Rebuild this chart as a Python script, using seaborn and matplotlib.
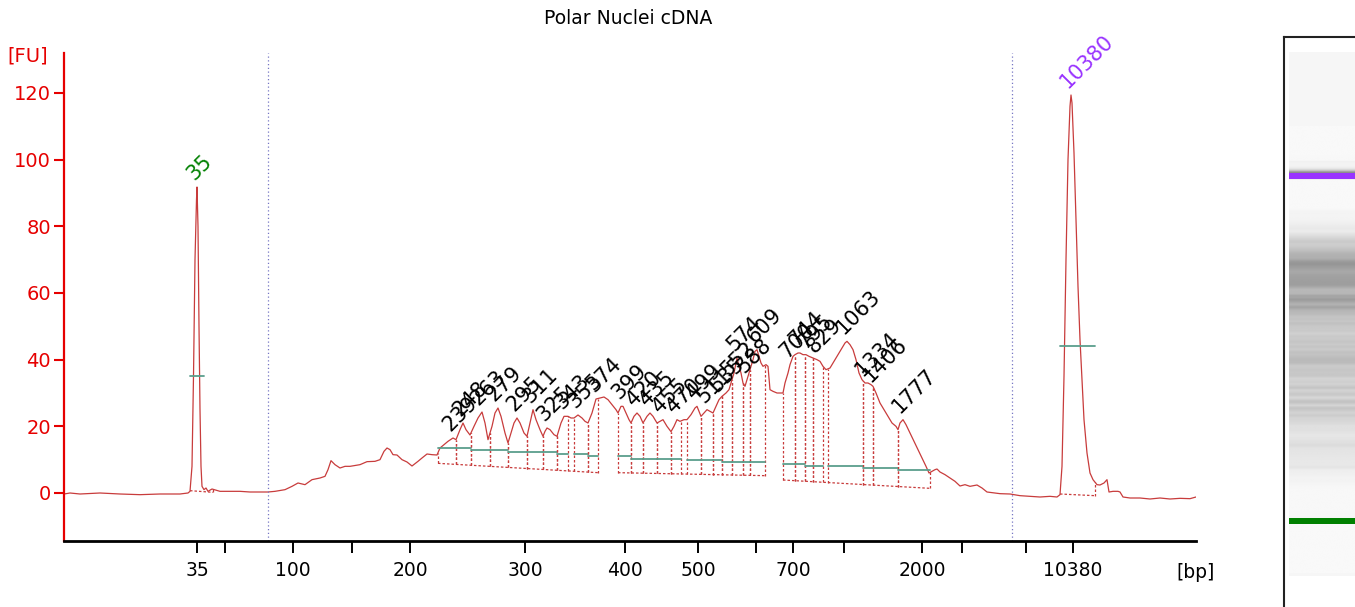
import numpy as np
import pandas as pd
import matplotlib
matplotlib.use("Agg")
import matplotlib.pyplot as plt
import seaborn as sns

# ---------------- data ----------------
title = "Polar Nuclei cDNA"

# migration position along the run (arbitrary units) and fluorescence [FU]
pos = [64, 70, 80, 100, 120, 140, 160, 180, 188, 190, 192, 193.5, 195, 196.5, 197, 198, 199, 200,
       201, 202, 204, 206, 208, 212, 220, 230, 240, 250, 260, 268, 275, 285, 292, 298, 305, 312,
       320, 325, 328, 331, 335, 340, 345, 350, 360, 367, 375, 380, 384, 387, 390, 393, 397, 402,
       407, 412, 418, 422, 427, 432, 437, 440, 444, 448, 453, 456, 460, 463, 466, 470, 474, 478,
       482, 485, 488, 492, 495, 498, 501, 505, 508, 511, 514, 517, 520, 524, 527, 530, 533, 536,
       540, 543, 545, 547, 550, 554, 557, 561, 564, 568, 571, 574, 578, 582, 585, 588, 592, 596,
       600, 604, 608, 612, 616, 618, 621, 623, 626, 629, 631, 634, 637, 640, 643, 647, 650, 653,
       657, 660, 663, 667, 671, 674, 677, 680, 684, 687, 691, 695, 697, 699, 701, 704, 707, 710,
       713, 716, 719, 722, 726, 729, 732, 734, 737, 739, 741, 743, 745, 747, 750, 753, 755, 757,
       759, 761, 763, 766, 768, 770, 773, 777, 781, 783, 785, 788, 790, 793, 795, 798, 800, 803,
       806, 809, 813, 817, 820, 823, 826, 830, 833, 837, 841, 845, 847, 850, 853, 856, 859, 862,
       865, 868, 871, 873, 876, 880, 884, 888, 892, 896, 898, 900, 903, 906, 910, 914, 918, 922,
       926, 929, 932, 935, 937, 940, 945, 950, 955, 960, 965, 970, 977, 982, 987, 995, 1000, 1010,
       1020, 1030, 1040, 1050, 1057, 1060, 1062, 1064, 1066, 1068, 1070, 1071, 1072, 1074, 1076,
       1078, 1080, 1082, 1084, 1087, 1090, 1093, 1097, 1100, 1104, 1107, 1109, 1113, 1118, 1120,
       1123, 1130, 1140, 1150, 1160, 1170, 1180, 1190, 1196]
fu = [-0.3, 0, -0.3, 0, -0.3, -0.5, -0.3, -0.3, 0, 0.5, 8, 35, 70, 88, 91.8, 80, 50, 25,
      8, 2, 1, 1.5, 0.5, 1.2, 0.5, 0.5, 0.5, 0.3, 0.3, 0.3, 0.5, 1, 2, 3, 2.5, 4,
      4.5, 5, 7, 9.7, 8.5, 7.5, 8, 8, 8.5, 9.4, 9.5, 10, 12.5, 13.5, 13, 11.5, 11.4, 10,
      9.3, 8.1, 9.5, 10.5, 11.7, 11.5, 11.4, 13.5, 14.5, 15.5, 16.5, 16, 19, 21, 19, 17.4, 20, 22.5,
      24.3, 21, 16, 20, 24, 25.5, 23, 18, 15, 18, 21, 22.5, 21, 18, 17, 21, 25, 22,
      19, 17, 18.5, 19.5, 19, 17.5, 17, 21, 23, 23, 22.5, 22.5, 23.4, 22.5, 21.5, 21, 24, 28.2,
      28.5, 28.8, 28, 26.5, 25, 24, 26, 26, 24, 22, 21, 23, 24, 23, 21, 23, 24, 23,
      21, 21.5, 22, 20, 18.4, 20, 22, 21.5, 22, 22, 23.5, 25.5, 26, 24.5, 23, 24, 25, 24.5,
      24, 26, 28, 29, 30, 31, 34, 36, 40.5, 38, 36, 33, 32, 34, 37, 40, 42.5, 43,
      41, 39, 38, 38.5, 38, 31, 30.5, 30, 30, 30, 33, 36, 38.5, 41, 41.5, 42, 42, 41.5,
      41.5, 41, 40.5, 40, 39.5, 38, 37, 37.5, 39, 41, 43, 45, 45.5, 44.5, 43, 40, 36, 34,
      33, 33, 32.5, 32, 30, 27, 25, 23, 21, 20, 19, 21, 22, 20.5, 18, 15.5, 13, 10.5,
      8, 6, 6.5, 7, 7.2, 6.3, 5.5, 4.5, 3.5, 2.1, 2.5, 2, 2.4, 1.5, 0.3, 0, -0.2, -0.3,
      -0.8, -1, -1.2, -1, -1.2, -0.5, 8, 35, 70, 100, 116, 119.4, 117, 102, 82,
      62, 46, 34, 22, 12, 6, 4, 2.5, 2.4, 3, 4, 0.3, 0.5, 0.5, 0.3,
      -1.2, -1.5, -1.5, -1.8, -1.5, -1.8, -1.6, -1.7, -1.2]

# x-axis ticks (position -> bp label)
tick_pos = [197, 225, 293, 352, 410, 525, 625, 698, 756, 793, 844, 922, 962, 1026, 1073]
tick_lbl = ["35", "", "100", "", "200", "300", "400", "500", "", "700", "", "2000", "", "", "10380"]
yticks = [0, 20, 40, 60, 80, 100, 120]

# ladder markers
marker_lbl = ["35", "10380"]
marker_pos = [197, 1071]
marker_col = ["#008000", "#9933ff"]
marker_start = [190, 1060]
marker_end = [213, 1095]
marker_teal = [35, 44]
marker_teal_end = [204, 1095]

# smear peaks
peak_lbl = ["239", "248", "263", "279", "295", "311", "325", "343", "355", "374",
            "399", "420", "435", "455", "470", "499", "511", "535", "552", "574", "588", "609",
            "700", "744", "795", "829", "1063", "1334", "1406", "1777"]
peak_pos = [453, 463, 482, 498, 517, 533, 547, 565, 578, 597,
            622, 637, 650, 663, 677, 697, 707, 720, 731, 737, 747, 757,
            790, 799, 808, 818, 847, 866, 874, 903]
region_start = [438, 456, 471, 490, 508, 527, 543, 557, 574, 588,
                618, 631, 643, 657, 671, 687, 701, 713, 722, 732, 743, 750,
                783, 795, 805, 813, 828, 863, 873, 898]
region_end = [456, 471, 490, 508, 527, 543, 557, 568, 588, 598,
              631, 643, 657, 671, 681, 701, 713, 722, 732, 743, 750, 765,
              795, 805, 813, 823, 863, 873, 898, 930]
region_teal = [13.5, 13.5, 13.0, 13.0, 12.3, 12.3, 12.3, 11.7, 11.7, 11.0,
               11.0, 10.2, 10.3, 10.3, 10.3, 9.9, 9.9, 9.9, 9.3, 9.3, 9.3, 9.3,
               8.7, 8.7, 8.1, 8.1, 8.1, 7.5, 7.5, 6.9]
# baselines of the three peak groups
group_start = [438, 618, 783]
group_end = [598, 765, 930]
group_base0 = [8.9, 6.1, 3.9]
group_base1 = [6.1, 5.2, 1.4]

# ---------------- style ----------------
sns.set_theme(style="white")
plt.rcParams["font.family"] = ["DejaVu Sans"]
plt.rcParams["text.color"] = "black"

RED = "#e60000"
TRACE = "#c83c3c"
TEAL = "#5a9e8c"

df = pd.DataFrame({"pos": pos, "fu": fu})
xp = np.array(pos, float)
yp = np.array(fu, float)
tr = lambda x: np.interp(x, xp, yp)

fig = plt.figure(figsize=(13.55, 6.07), dpi=100)
W, H = 1355, 607
ax = fig.add_axes([64 / W, 1 - 541 / H, (1196 - 64) / W, (541 - 53) / H])

sns.lineplot(data=df, x="pos", y="fu", ax=ax, color=TRACE, lw=0.9,
             estimator=None, sort=False)

ax.set_xlim(64, 1196)
ax.set_ylim(-14.4, 132)

# dotted run boundary lines
for xv in (268, 1012):
    ax.axvline(xv, color="#7777c4", lw=0.9, ls=(0, (1, 2)))

dash = (0, (2, 1.6))
for gs, ge, b0, b1 in zip(group_start, group_end, group_base0, group_base1):
    ax.plot([gs, ge], [b0, b1], color=TRACE, lw=0.9, ls=dash)


def gbase(x):
    for gs, ge, b0, b1 in zip(group_start, group_end, group_base0, group_base1):
        if gs - 0.5 <= x <= ge + 0.5:
            return b0 + (b1 - b0) * (x - gs) / (ge - gs)
    return 0.0


for s, e, t in zip(region_start, region_end, region_teal):
    for xv in (s, e):
        ax.plot([xv, xv], [gbase(xv), tr(xv)], color=TRACE, lw=0.9, ls=dash)
    ax.plot([s, e], [t, t], color=TEAL, lw=1.3)

for lbl, p in zip(peak_lbl, peak_pos):
    ax.annotate(lbl, xy=(p, tr(p)), xytext=(-3, 6), textcoords="offset pixels",
                rotation=45, rotation_mode="anchor", ha="left", va="baseline",
                fontsize=15, color="black")

for lbl, p, c, s, e, t, te in zip(marker_lbl, marker_pos, marker_col, marker_start,
                                  marker_end, marker_teal, marker_teal_end):
    b0, b1 = tr(s), tr(s) - 0.3
    ax.plot([s, e], [b0 + 0.2, b1], color=TRACE, lw=0.9, ls=dash)
    ax.plot([e, e], [b1, tr(e)], color=TRACE, lw=0.9, ls=dash)
    ax.plot([s, te], [t, t], color=TEAL, lw=1.3)
    ax.annotate(lbl, xy=(p, tr(p)), xytext=(-3, 6), textcoords="offset pixels",
                rotation=45, rotation_mode="anchor", ha="left", va="baseline",
                fontsize=15, color=c)

for sp in ("top", "right"):
    ax.spines[sp].set_visible(False)
ax.spines["left"].set_color(RED)
ax.spines["left"].set_linewidth(1.6)
ax.spines["bottom"].set_color("black")
ax.spines["bottom"].set_linewidth(2.0)
ax.set_yticks(yticks)
ax.set_yticklabels([str(v) for v in yticks])
ax.set_xticks(tick_pos)
ax.set_xticklabels(tick_lbl)
ax.tick_params(axis="y", colors=RED, labelcolor=RED, length=7.5, width=1.5,
               labelsize=14, pad=2, direction="out", left=True)
ax.tick_params(axis="x", colors="black", labelcolor="black", length=8.5, width=1.4,
               labelsize=13.5, pad=6, direction="out", bottom=True)
ax.set_xlabel("")
ax.set_ylabel("")
ax.grid(False)

fig.text(628 / W, 1 - 18 / H, title, ha="center", va="center", fontsize=13.5, color="black")
fig.text(27.5 / W, 1 - 56 / H, "[FU]", ha="center", va="center", fontsize=14, color=RED)
fig.text(1195.5 / W, 1 - 572 / H, "[bp]", ha="center", va="center", fontsize=13.5, color="black")

# ---------------- virtual gel lane ----------------
k = (521 - 176) / (marker_pos[1] - marker_pos[0])
m_bottom = marker_pos[0] - (H - 521) / k
m_top = marker_pos[0] + (521 - 37) / k
gx = fig.add_axes([1284 / W, 0, (W - 1284) / W + 0.01, 1 - 37 / H])
gx.axhspan(marker_pos[0] - (576 - 521) / k, marker_pos[0] + (521 - 52) / k,
           xmin=4 / 72, xmax=1, color="#f6f6f6", lw=0, zorder=0.5)
mm = np.linspace(pos[0], pos[-1], 1400)
gray = np.clip(0.975 - 0.0085 * np.clip(tr(mm), 0, None), 0.55, 1.0)
gx.imshow(gray[:, None], extent=(4, 72, pos[0], pos[-1]), origin="lower",
          cmap="gray", vmin=0, vmax=1, aspect="auto", interpolation="bilinear", zorder=1)
gx.axhspan(marker_pos[0] - 6.5, marker_pos[0] + 6.5, xmin=4 / 72, xmax=1,
           color="#008000", lw=0, zorder=2)
gx.axhspan(marker_pos[1] - 8, marker_pos[1] + 8, xmin=4 / 72, xmax=1,
           color="#9933ff", lw=0, zorder=2)
gx.set_xlim(0, 72)
gx.set_ylim(m_bottom, m_top)
gx.set_xticks([])
gx.set_yticks([])
for sp in ("right", "bottom"):
    gx.spines[sp].set_visible(False)
for sp in ("left", "top"):
    gx.spines[sp].set_visible(True)
    gx.spines[sp].set_color("#222222")
    gx.spines[sp].set_linewidth(1.5)

fig.savefig("out.png", dpi=100)
